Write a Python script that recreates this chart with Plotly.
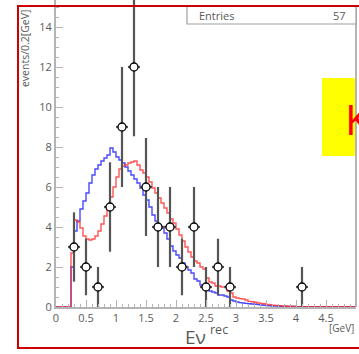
import plotly.graph_objects as go

# Reconstructed-energy histograms, 0.05 GeV bins starting at 0 GeV
bin_width = 0.05
blue_mc = [
    0, 0, 0, 0, 0,
    2.0, 3.8, 4.3, 4.9, 5.3, 5.7, 6.2, 6.6, 6.9, 7.1,
    7.3, 7.45, 7.6, 7.95, 7.75, 7.5, 7.35, 7.2, 7.0, 6.8,
    6.6, 6.4, 6.2, 5.95, 5.6, 5.35, 5.0, 4.6, 4.3, 4.1,
    3.95, 3.7, 3.4, 3.05, 2.8, 2.6, 2.45, 2.2, 2.0, 1.85,
    1.7, 1.4, 1.3, 1.1, 1.0, 0.95, 0.8, 0.75, 0.7, 0.6,
    0.6, 0.55, 0.5, 0.35, 0.3, 0.25, 0.22, 0.2, 0.18, 0.16,
    0.15, 0.14, 0.12, 0.1, 0.09, 0.07, 0.06, 0.05, 0.05, 0.04,
    0.03, 0.03, 0.03, 0.03, 0.03, 0.02, 0.02, 0.02, 0.02, 0.02,
    0.02, 0.01, 0.01, 0.01, 0.01, 0.01, 0.01, 0.01, 0.01, 0.01,
    0.01, 0.01, 0.01, 0.01, 0.01,
]
red_mc = [
    0, 0, 0, 0, 0,
    2.7, 4.35, 4.25, 3.95, 3.55, 3.4, 3.35, 3.4, 3.55, 3.8,
    4.15, 4.55, 5.0, 5.5, 6.0, 6.5, 6.9, 7.05, 7.1, 7.2,
    7.25, 7.3, 7.1, 6.85, 6.7, 6.5, 6.25, 5.95, 5.7, 5.45,
    5.2, 4.95, 4.7, 4.4, 4.2, 3.9, 3.6, 3.3, 3.0, 2.75,
    2.5, 2.3, 2.2, 2.0, 1.9, 1.45, 1.25, 1.2, 1.05, 1.05,
    1.0, 1.0, 0.8, 0.7, 0.5, 0.45, 0.42, 0.4, 0.35, 0.28,
    0.26, 0.24, 0.2, 0.18, 0.16, 0.13, 0.11, 0.09, 0.08, 0.06,
    0.05, 0.05, 0.04, 0.04, 0.03, 0.02, 0.02, 0.02, 0.02, 0.02,
    0.02, 0.02, 0.01, 0.01, 0.01, 0.01, 0.01, 0.01, 0.01, 0.01,
    0.01, 0.01, 0.01, 0.01, 0.01,
]

# Observed events, 0.2 GeV bins (bin centres)
data_x = [0.3, 0.5, 0.7, 0.9, 1.1, 1.3, 1.5, 1.7, 1.9, 2.1, 2.3, 2.5, 2.7, 2.9, 4.1]
data_y = [3, 2, 1, 5, 9, 12, 6, 4, 4, 2, 4, 1, 2, 1, 1]
data_err = [v ** 0.5 for v in data_y]

x_ticks = [0, 0.5, 1, 1.5, 2, 2.5, 3, 3.5, 4, 4.5, 5]
x_tick_text = ["0", "0.5", "1", "1.5", "2", "2.5", "3", "3.5", "4", "4.5", "5"]
y_ticks = [0, 2, 4, 6, 8, 10, 12, 14]

n_entries = sum(data_y)

FONT = "Open Sans"
GREY = "#5a5a5a"
AXIS = "#b4b4b4"
BAR = "#555555"


def step_xy(values):
    edges = [i * bin_width for i in range(len(values) + 1)]
    return edges, list(values) + [values[-1]]


fig = go.Figure()

bx, by = step_xy(blue_mc)
fig.add_trace(go.Scatter(x=bx, y=by, mode="lines", line_shape="hv",
                         line=dict(color="rgba(40,40,255,0.85)", width=1.4),
                         hoverinfo="skip"))
rx, ry = step_xy(red_mc)
fig.add_trace(go.Scatter(x=rx, y=ry, mode="lines", line_shape="hv",
                         line=dict(color="rgba(255,40,40,0.8)", width=1.4),
                         hoverinfo="skip"))

fig.add_trace(go.Scatter(
    x=data_x, y=data_y, mode="markers",
    marker=dict(symbol="circle", size=8, color="white",
                line=dict(color="black", width=1.3)),
    error_y=dict(type="data", array=data_err, color=BAR, thickness=2.2, width=0),
    error_x=dict(type="constant", value=0.1, color=BAR, thickness=2.2, width=0),
))

fig.update_layout(
    width=359, height=354,
    margin=dict(l=56, r=3, t=0, b=47),
    paper_bgcolor="white", plot_bgcolor="white",
    showlegend=False,
    font=dict(family=FONT, color=GREY, size=11),
)

fig.update_xaxes(
    range=[0, 5], tickvals=x_ticks, ticktext=x_tick_text,
    showgrid=False, zeroline=False,
    showline=True, linecolor=AXIS, linewidth=2,
    ticks="inside", ticklen=7, tickcolor=AXIS, tickwidth=1,
    minor=dict(dtick=0.1, ticks="inside", ticklen=3, tickcolor=AXIS, tickwidth=1),
    tickfont=dict(size=11, color=GREY),
)
fig.update_yaxes(
    range=[0, 15.35], tickvals=y_ticks,
    showgrid=False, zeroline=False,
    showline=True, linecolor=AXIS, linewidth=2,
    ticks="inside", ticklen=7, tickcolor=AXIS, tickwidth=1,
    minor=dict(dtick=0.5, ticks="inside", ticklen=3, tickcolor=AXIS, tickwidth=1),
    tickfont=dict(size=11, color=GREY),
)

shapes = [
    # yellow label box
    dict(type="rect", xref="paper", yref="paper", x0=0.8867, x1=1.0033, y0=0.4919, y1=0.7459,
         fillcolor="#ffff00", line=dict(width=0), layer="above"),
    # right frame line
    dict(type="line", xref="paper", yref="paper", x0=1.0, x1=1.0, y0=0, y1=0.982,
         line=dict(color=AXIS, width=2), layer="above"),
    # statistics box
    dict(type="rect", xref="paper", yref="paper", x0=0.4367, x1=1.0, y0=0.9218, y1=0.982,
         fillcolor="white", line=dict(color="#a0a0a0", width=1.2), layer="above"),
    # outer red frame
    dict(type="rect", xref="paper", yref="paper", x0=-0.1267, x1=1.03, y0=-0.1336, y1=0.9805,
         fillcolor="rgba(0,0,0,0)", line=dict(color="#cc0000", width=2), layer="above"),
]
fig.update_layout(shapes=shapes)

annotations = [
    dict(text="Entries", xref="paper", yref="paper", x=0.47, y=0.951,
         xanchor="left", yanchor="middle", showarrow=False,
         font=dict(size=11, color=GREY, family=FONT)),
    dict(text=str(n_entries), xref="paper", yref="paper", x=0.9733, y=0.951,
         xanchor="right", yanchor="middle", showarrow=False,
         font=dict(size=11, color=GREY, family=FONT)),
    dict(text="K", xref="paper", yref="paper", x=0.957, y=0.6156,
         xanchor="left", yanchor="middle", showarrow=False,
         font=dict(size=42, color="#ff0000", family=FONT)),
    dict(text="events/0.2[GeV]", xref="paper", yref="paper", x=-0.1033, y=0.977,
         xanchor="center", yanchor="top", textangle=-90, showarrow=False,
         font=dict(size=10.5, color=GREY, family=FONT)),
    # x-axis title: E-nu with a raised "rec"
    dict(text="Eν", xref="paper", yref="paper", x=0.5067, y=-0.098,
         xanchor="right", yanchor="middle", showarrow=False,
         font=dict(size=19, color=GREY, family=FONT)),
    dict(text="rec", xref="paper", yref="paper", x=0.506, y=-0.072,
         xanchor="left", yanchor="middle", showarrow=False,
         font=dict(size=12.5, color=GREY, family=FONT)),
    dict(text="[GeV]", xref="paper", yref="paper", x=1.0, y=-0.068,
         xanchor="right", yanchor="middle", showarrow=False,
         font=dict(size=10, color=GREY, family=FONT)),
]
fig.update_layout(annotations=annotations)

fig.write_html("out.html")
